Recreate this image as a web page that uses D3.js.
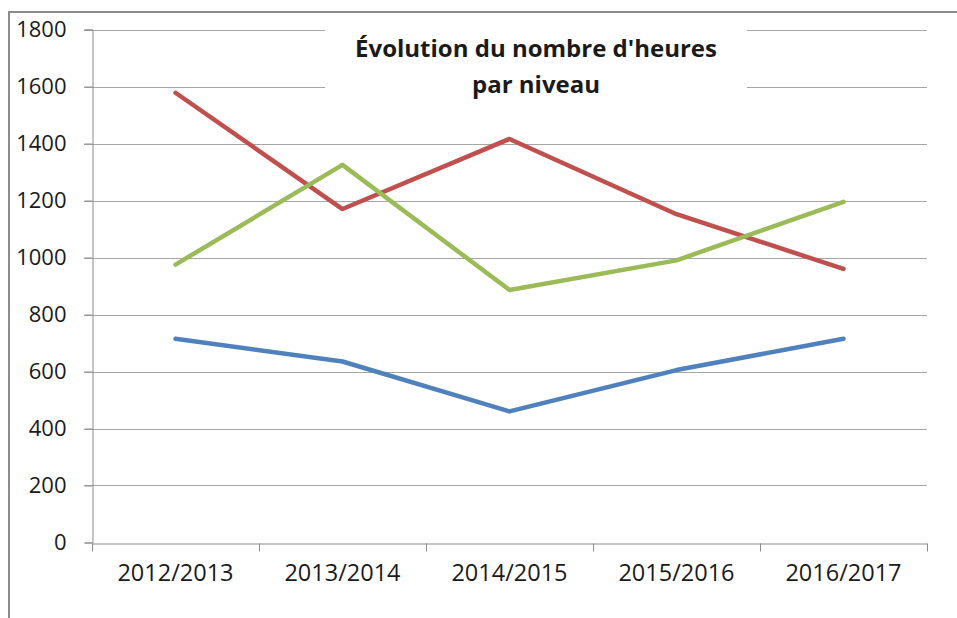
<!DOCTYPE html>
<html>
<head>
<meta charset="utf-8">
<script src="https://cdn.jsdelivr.net/npm/d3@7"></script>
<style>
  body { margin: 0; background: #fff; }
  svg { display: block; }
  text { font-family: "Open Sans", sans-serif; fill: #1a1a1a; }
</style>
</head>
<body>
<div id="chart"></div>
<script>
var categories = ["2012/2013", "2013/2014", "2014/2015", "2015/2016", "2016/2017"];
var serieBleue = [715, 635, 460, 605, 715];
var serieRouge = [1578, 1170, 1416, 1152, 960];
var serieVerte = [975, 1325, 886, 990, 1195];
var yTicks = [0, 200, 400, 600, 800, 1000, 1200, 1400, 1600, 1800];
var titre = ["Évolution du nombre d'heures", "par niveau"];

var series = [
  { values: serieBleue, color: "#4f81bd" },
  { values: serieRouge, color: "#c0504d" },
  { values: serieVerte, color: "#9bbb59" }
];

var W = 957, H = 618;
var plot = { left: 92, right: 927, top: 29.5, bottom: 542.5 };

var svg = d3.select("#chart").append("svg")
    .attr("width", W)
    .attr("height", H);

// outer frame (cut off on the right and bottom)
svg.append("rect")
    .attr("x", 9).attr("y", 12)
    .attr("width", W + 20).attr("height", H + 20)
    .attr("fill", "#fff")
    .attr("stroke", "#8c8c8c")
    .attr("stroke-width", 2);

var x = d3.scaleBand().domain(categories).range([plot.left, plot.right]);
var y = d3.scaleLinear().domain([0, 1800]).range([plot.bottom, plot.top]);

// gridlines
svg.append("g")
  .selectAll("line")
  .data(yTicks.slice(1))
  .enter().append("line")
    .attr("x1", plot.left - 8).attr("x2", plot.right)
    .attr("y1", function(d) { return Math.round(y(d)) + 0.5; })
    .attr("y2", function(d) { return Math.round(y(d)) + 0.5; })
    .attr("stroke", "#a6a6a6")
    .attr("stroke-width", 1);

// y axis
var yAxis = svg.append("g")
    .attr("transform", "translate(" + (plot.left + 0.5) + ",0)")
    .call(d3.axisLeft(y).tickValues(yTicks).tickFormat(d3.format("d")).tickSize(8).tickPadding(18));
yAxis.select(".domain").attr("stroke", "#8c8c8c");
yAxis.selectAll(".tick line").attr("stroke", "#8c8c8c");
yAxis.selectAll(".tick text")
    .style("font-size", "22px")
    .attr("fill", "#1a1a1a");

// x axis
var xAxis = svg.append("g")
    .attr("transform", "translate(0," + (Math.round(plot.bottom) + 0.5) + ")")
    .call(d3.axisBottom(x).tickSize(0).tickPadding(21));
xAxis.select(".domain").attr("stroke", "#8c8c8c");
xAxis.selectAll(".tick text")
    .style("font-size", "23.5px")
    .attr("fill", "#1a1a1a");
// tick marks between categories
xAxis.selectAll(".sep")
  .data(d3.range(categories.length + 1))
  .enter().append("line")
    .attr("class", "sep")
    .attr("x1", function(i) { return Math.round(plot.left + i * x.step()) + 0.5; })
    .attr("x2", function(i) { return Math.round(plot.left + i * x.step()) + 0.5; })
    .attr("y1", 0).attr("y2", 8)
    .attr("stroke", "#8c8c8c");

// lines
var line = d3.line()
    .x(function(d, i) { return x(categories[i]) + x.bandwidth() / 2; })
    .y(function(d) { return y(d); });

svg.append("g")
  .selectAll("path")
  .data(series)
  .enter().append("path")
    .attr("d", function(s) { return line(s.values); })
    .attr("fill", "none")
    .attr("stroke", function(s) { return s.color; })
    .attr("stroke-width", 4.5)
    .attr("stroke-linejoin", "round")
    .attr("stroke-linecap", "round");

// title with white box over gridlines
var tg = svg.append("g");
tg.append("rect")
    .attr("x", 325).attr("y", 18)
    .attr("width", 422).attr("height", 84)
    .attr("fill", "#fff");
tg.selectAll("text")
  .data(titre)
  .enter().append("text")
    .attr("x", 536)
    .attr("y", function(d, i) { return 57 + i * 36; })
    .attr("text-anchor", "middle")
    .style("font-size", "24px")
    .style("font-weight", "bold")
    .text(function(d) { return d; });
</script>
</body>
</html>
